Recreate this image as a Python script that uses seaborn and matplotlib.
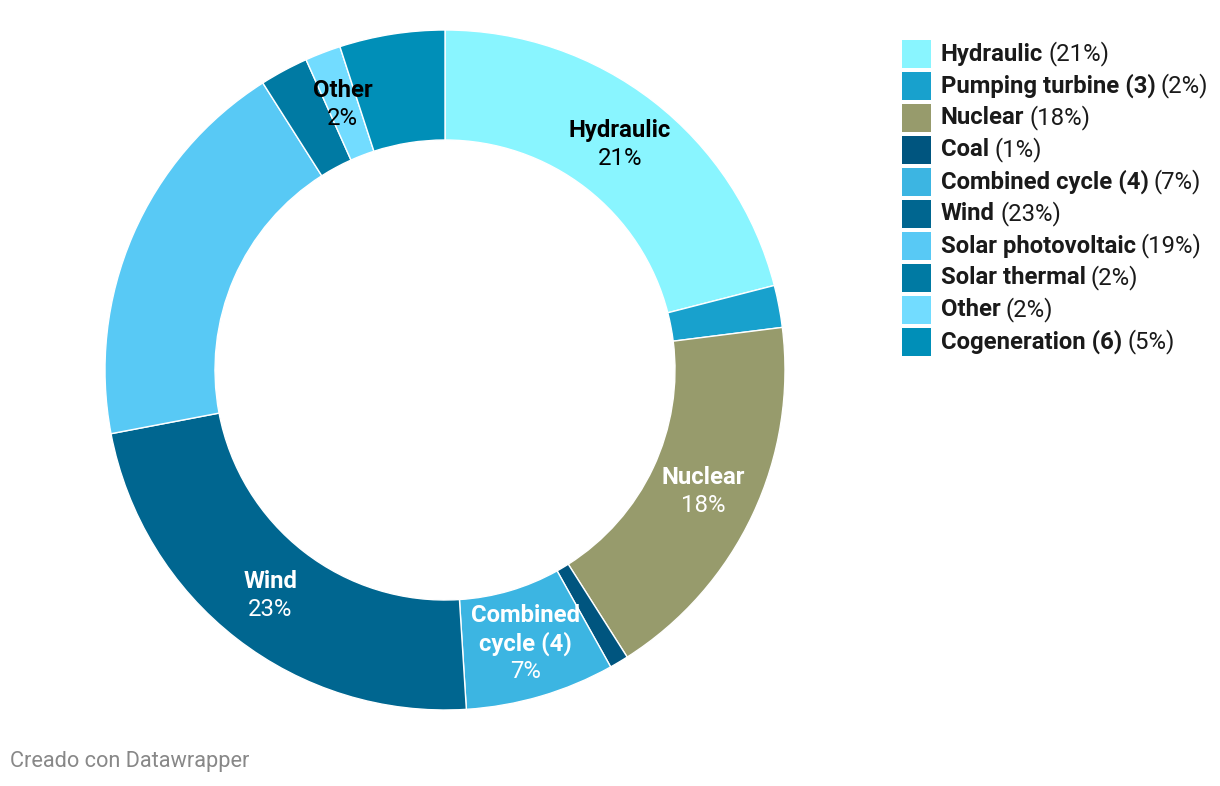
import matplotlib
matplotlib.use("Agg")
import matplotlib.pyplot as plt
import seaborn as sns
import numpy as np
from matplotlib.patches import Rectangle

categories = ["Hydraulic", "Pumping turbine (3)", "Nuclear", "Coal", "Combined cycle (4)",
              "Wind", "Solar photovoltaic", "Solar thermal", "Other", "Cogeneration (6)"]
values = [21.0, 2.0, 18.0, 0.9, 7.1, 23.0, 19.0, 2.3, 1.7, 5.0]
colors = ["#89f5ff", "#18a1cd", "#979b6c", "#00557f", "#3cb5e2",
          "#006690", "#58c9f5", "#007aa3", "#72dcff", "#008fb8"]
# in-chart labels, and text color
slice_labels = {"Hydraulic": ("Hydraulic", "black"),
                "Nuclear": ("Nuclear", "white"),
                "Combined cycle (4)": ("Combined\ncycle (4)", "white"),
                "Wind": ("Wind", "white"),
                "Other": ("Other", "black")}

sns.set_theme(style="white")
plt.rcParams["font.family"] = ["Roboto", "DejaVu Sans"]

W, H = 1220, 786
fig = plt.figure(figsize=(W / 100, H / 100), dpi=100)
fig.patch.set_facecolor("white")

cx, cy, R = 445, 370, 340
ax = fig.add_axes([(cx - R) / W, (H - cy - R) / H, 2 * R / W, 2 * R / H])
palette = sns.color_palette(colors)
wedges, _ = ax.pie(values, colors=palette, startangle=90, counterclock=False,
                   radius=1.0, wedgeprops=dict(width=110 / 340, edgecolor="white", linewidth=1))
ax.set_xlim(-1, 1)
ax.set_ylim(-1, 1)
ax.set_aspect("equal")
ax.axis("off")

total = sum(values)
pcts = [int(round(v / total * 100)) for v in values]
rmid = (1 + (1 - 110 / 340)) / 2
cum = 0
fs = 17.2
for cat, v, p in zip(categories, values, pcts):
    mid = (cum + v / 2) / total
    cum += v
    if cat not in slice_labels:
        continue
    txt, col = slice_labels[cat]
    ang = np.deg2rad(90 - mid * 360)
    x, y = rmid * np.cos(ang), rmid * np.sin(ang)
    nlines = txt.count("\n") + 1
    lh = 28 / R  # line height in data units
    top = y + nlines * lh / 2
    for i, line in enumerate(txt.split("\n")):
        ax.text(x, top - i * lh, line, ha="center", va="center", fontsize=fs,
                fontweight="bold", color=col)
    ax.text(x, top - nlines * lh, f"{p}%", ha="center", va="center", fontsize=fs, color=col)

# Legend
fig.canvas.draw()
renderer = fig.canvas.get_renderer()
x0, y0, step = 902, 54, 32
for i, (cat, col, p) in enumerate(zip(categories, colors, pcts)):
    yc = y0 + i * step
    fig.patches.append(Rectangle((x0 / W, (H - yc - 14) / H), 29 / W, 28 / H,
                                 transform=fig.transFigure, facecolor=col, edgecolor="none"))
    t1 = fig.text(941 / W, (H - yc) / H, cat, ha="left", va="center", fontsize=fs,
                  fontweight="bold", color="#1a1a1a")
    bb = t1.get_window_extent(renderer)
    fig.text((bb.x1 + 5) / W, (H - yc) / H, f"({p}%)", ha="left", va="center",
             fontsize=fs, color="#1a1a1a")

fig.text(10 / W, (H - 762) / H, "Creado con Datawrapper", ha="left", va="center",
         fontsize=15.7, color="#888888")

fig.savefig("out.png", dpi=100, facecolor="white")
